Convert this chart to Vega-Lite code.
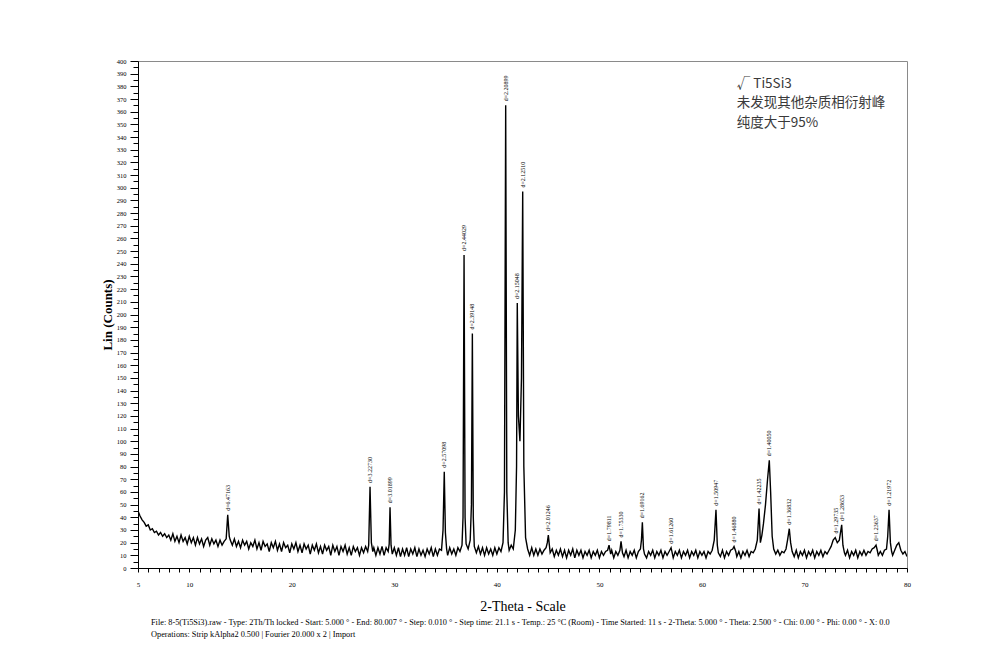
{
  "$schema": "https://vega.github.io/schema/vega-lite/v6.json",
  "width": 769,
  "height": 507,
  "autosize": {"type": "none"},
  "padding": {"left": 138, "top": 61, "right": 93, "bottom": 100},
  "background": "white",
  "config": {
    "view": {"stroke": "#8a8a8a", "strokeWidth": 1},
    "axis": {"grid": false, "domainColor": "black", "tickColor": "black", "labelColor": "black", "titleColor": "black", "labelFont": "Liberation Serif", "titleFont": "Liberation Serif"}
  },
  "title": {
    "text": ["File: 8-5(Ti5Si3).raw - Type: 2Th/Th locked - Start: 5.000 ° - End: 80.007 ° - Step: 0.010 ° - Step time: 21.1 s - Temp.: 25 °C (Room) - Time Started: 11 s - 2-Theta: 5.000 ° - Theta: 2.500 ° - Chi: 0.00 ° - Phi: 0.00 ° - X: 0.0", "Operations: Strip kAlpha2 0.500 | Fourier 20.000 x 2 | Import"],
    "orient": "bottom",
    "anchor": "start",
    "frame": "group",
    "font": "Liberation Serif",
    "fontSize": 8.3,
    "fontWeight": "normal",
    "color": "black",
    "lineHeight": 12,
    "offset": 5,
    "dx": 13
  },
  "datasets": {
    "scan": [
      {"t":5.0,"c":45},{"t":5.2,"c":41},{"t":5.4,"c":38},{"t":5.6,"c":36},{"t":5.8,"c":33},{"t":6.0,"c":34},{"t":6.2,"c":30},{"t":6.4,"c":31},{"t":6.6,"c":28},{"t":6.8,"c":29},{"t":7.0,"c":26},{"t":7.2,"c":28},{"t":7.4,"c":25},{"t":7.6,"c":27},{"t":7.8,"c":24},{"t":8.0,"c":26},
      {"t":8.2,"c":22},{"t":8.4,"c":27},{"t":8.6,"c":21},{"t":8.8,"c":25},{"t":9.0,"c":20},{"t":9.2,"c":26},{"t":9.4,"c":21},{"t":9.6,"c":24},{"t":9.8,"c":19},{"t":10.0,"c":25},{"t":10.2,"c":20},{"t":10.4,"c":24},{"t":10.6,"c":18},{"t":10.8,"c":24},{"t":11.0,"c":19},{"t":11.2,"c":23},{"t":11.4,"c":17},{"t":11.6,"c":22},{"t":11.8,"c":24},{"t":12.0,"c":18},{"t":12.2,"c":23},{"t":12.4,"c":19},{"t":12.6,"c":22},{"t":12.8,"c":17},{"t":13.0,"c":22},{"t":13.2,"c":18},{"t":13.4,"c":21},{"t":13.6,"c":23},{"t":13.75,"c":42},{"t":13.9,"c":25},
      {"t":14.0,"c":22},{"t":14.2,"c":18},{"t":14.4,"c":23},{"t":14.6,"c":17},{"t":14.8,"c":21},{"t":15.0,"c":16},{"t":15.2,"c":22},{"t":15.4,"c":18},{"t":15.6,"c":21},{"t":15.8,"c":15},{"t":16.0,"c":20},{"t":16.2,"c":17},{"t":16.4,"c":22},{"t":16.6,"c":15},{"t":16.8,"c":20},{"t":17.0,"c":14},{"t":17.2,"c":21},{"t":17.4,"c":17},{"t":17.6,"c":19},{"t":17.8,"c":13},{"t":18.0,"c":20},{"t":18.2,"c":16},{"t":18.4,"c":21},{"t":18.6,"c":14},{"t":18.8,"c":19},{"t":19.0,"c":13},{"t":19.2,"c":20},{"t":19.4,"c":16},{"t":19.6,"c":18},{"t":19.8,"c":12},{"t":20.0,"c":19},{"t":20.2,"c":15},{"t":20.4,"c":20},{"t":20.6,"c":13},{"t":20.8,"c":18},{"t":21.0,"c":12},{"t":21.2,"c":19},{"t":21.4,"c":15},{"t":21.6,"c":18},{"t":21.8,"c":11},{"t":22.0,"c":18},{"t":22.2,"c":14},{"t":22.4,"c":19},{"t":22.6,"c":12},{"t":22.8,"c":17},{"t":23.0,"c":11},{"t":23.2,"c":18},{"t":23.4,"c":14},{"t":23.6,"c":17},{"t":23.8,"c":10},{"t":24.0,"c":18},{"t":24.2,"c":13},{"t":24.4,"c":17},{"t":24.6,"c":10},{"t":24.8,"c":17},{"t":25.0,"c":13},{"t":25.2,"c":18},{"t":25.4,"c":11},{"t":25.6,"c":16},{"t":25.8,"c":10},{"t":26.0,"c":17},{"t":26.2,"c":13},{"t":26.4,"c":16},{"t":26.6,"c":10},{"t":26.8,"c":16},{"t":27.0,"c":12},{"t":27.2,"c":17},{"t":27.4,"c":13},{"t":27.5,"c":18},{"t":27.63,"c":64},{"t":27.76,"c":20},{"t":27.9,"c":13},
      {"t":28.0,"c":16},{"t":28.2,"c":10},{"t":28.4,"c":16},{"t":28.6,"c":11},{"t":28.8,"c":17},{"t":29.0,"c":10},{"t":29.2,"c":16},{"t":29.4,"c":13},{"t":29.5,"c":19},{"t":29.58,"c":48},{"t":29.68,"c":18},{"t":29.8,"c":11},{"t":30.0,"c":16},{"t":30.2,"c":10},{"t":30.4,"c":16},{"t":30.6,"c":9},{"t":30.8,"c":15},{"t":31.0,"c":10},{"t":31.2,"c":16},{"t":31.4,"c":9},{"t":31.6,"c":15},{"t":31.8,"c":11},{"t":32.0,"c":16},{"t":32.2,"c":9},{"t":32.4,"c":15},{"t":32.6,"c":10},{"t":32.8,"c":14},{"t":33.0,"c":9},{"t":33.2,"c":15},{"t":33.4,"c":11},{"t":33.6,"c":16},{"t":33.8,"c":9},{"t":34.0,"c":15},{"t":34.2,"c":10},{"t":34.4,"c":15},{"t":34.6,"c":14},{"t":34.75,"c":30},{"t":34.87,"c":76},{"t":34.98,"c":28},{"t":35.1,"c":15},{"t":35.2,"c":10},{"t":35.4,"c":16},{"t":35.6,"c":11},{"t":35.8,"c":15},{"t":36.0,"c":10},{"t":36.2,"c":16},{"t":36.4,"c":13},{"t":36.6,"c":18},{"t":36.7,"c":40},{"t":36.8,"c":247},{"t":36.9,"c":40},{"t":37.0,"c":19},{"t":37.2,"c":15},{"t":37.4,"c":22},{"t":37.52,"c":50},{"t":37.61,"c":185},{"t":37.7,"c":40},{"t":37.8,"c":17},{"t":38.0,"c":12},{"t":38.2,"c":17},{"t":38.4,"c":11},{"t":38.6,"c":16},{"t":38.8,"c":10},{"t":39.0,"c":16},{"t":39.2,"c":11},{"t":39.4,"c":15},{"t":39.6,"c":10},{"t":39.8,"c":16},{"t":40.0,"c":11},{"t":40.2,"c":16},{"t":40.4,"c":13},{"t":40.6,"c":20},{"t":40.74,"c":60},{"t":40.86,"c":365},{"t":40.97,"c":60},{"t":41.1,"c":20},{"t":41.2,"c":14},{"t":41.4,"c":18},{"t":41.6,"c":15},{"t":41.8,"c":30},{"t":41.92,"c":80},{"t":41.99,"c":209},{"t":42.1,"c":120},{"t":42.25,"c":100},{"t":42.4,"c":150},{"t":42.52,"c":297},{"t":42.63,"c":80},{"t":42.8,"c":24},{"t":43.0,"c":15},{"t":43.2,"c":10},{"t":43.4,"c":16},{"t":43.6,"c":10},{"t":43.8,"c":15},{"t":44.0,"c":10},{"t":44.2,"c":15},{"t":44.4,"c":11},{"t":44.6,"c":14},{"t":44.8,"c":16},{"t":44.92,"c":20},{"t":45.02,"c":26},{"t":45.12,"c":18},{"t":45.2,"c":12},{"t":45.4,"c":15},{"t":45.6,"c":9},{"t":45.8,"c":14},{"t":46.0,"c":10},{"t":46.2,"c":15},{"t":46.4,"c":9},{"t":46.6,"c":14},{"t":46.8,"c":8},{"t":47.0,"c":14},{"t":47.2,"c":10},{"t":47.4,"c":15},{"t":47.6,"c":8},{"t":47.8,"c":14},{"t":48.0,"c":10},{"t":48.2,"c":14},{"t":48.4,"c":8},{"t":48.6,"c":13},{"t":48.8,"c":10},{"t":49.0,"c":14},{"t":49.2,"c":8},{"t":49.4,"c":13},{"t":49.6,"c":10},{"t":49.8,"c":14},{"t":50.0,"c":8},{"t":50.2,"c":13},{"t":50.4,"c":10},{"t":50.6,"c":13},{"t":50.8,"c":14},{"t":50.94,"c":18},{"t":51.1,"c":11},{"t":51.2,"c":14},{"t":51.4,"c":8},{"t":51.6,"c":13},{"t":51.8,"c":10},{"t":52.0,"c":14},{"t":52.11,"c":21},{"t":52.25,"c":12},{"t":52.4,"c":9},{"t":52.6,"c":14},{"t":52.8,"c":8},{"t":53.0,"c":13},{"t":53.2,"c":10},{"t":53.4,"c":14},{"t":53.6,"c":8},{"t":53.8,"c":13},{"t":54.0,"c":15},{"t":54.1,"c":22},{"t":54.19,"c":36},{"t":54.3,"c":15},{"t":54.4,"c":11},{"t":54.6,"c":8},{"t":54.8,"c":13},{"t":55.0,"c":10},{"t":55.2,"c":14},{"t":55.4,"c":8},{"t":55.6,"c":13},{"t":55.8,"c":10},{"t":56.0,"c":14},{"t":56.2,"c":8},{"t":56.4,"c":13},{"t":56.6,"c":10},{"t":56.8,"c":13},{"t":56.99,"c":16},{"t":57.1,"c":12},{"t":57.2,"c":8},{"t":57.4,"c":13},{"t":57.6,"c":10},{"t":57.8,"c":14},{"t":58.0,"c":8},{"t":58.2,"c":13},{"t":58.4,"c":10},{"t":58.6,"c":14},{"t":58.8,"c":8},{"t":59.0,"c":13},{"t":59.2,"c":10},{"t":59.4,"c":14},{"t":59.6,"c":8},{"t":59.8,"c":13},{"t":60.0,"c":10},{"t":60.2,"c":13},{"t":60.4,"c":8},{"t":60.6,"c":13},{"t":60.8,"c":11},{"t":61.0,"c":14},{"t":61.2,"c":22},{"t":61.37,"c":46},{"t":61.5,"c":18},{"t":61.6,"c":12},{"t":61.8,"c":9},{"t":62.0,"c":14},{"t":62.2,"c":8},{"t":62.4,"c":13},{"t":62.6,"c":10},{"t":62.8,"c":14},{"t":63.0,"c":15},{"t":63.13,"c":17},{"t":63.3,"c":13},{"t":63.4,"c":9},{"t":63.6,"c":13},{"t":63.8,"c":8},{"t":64.0,"c":13},{"t":64.2,"c":10},{"t":64.4,"c":14},{"t":64.6,"c":9},{"t":64.8,"c":13},{"t":65.0,"c":12},{"t":65.2,"c":15},{"t":65.4,"c":22},{"t":65.57,"c":47},{"t":65.7,"c":20},{"t":65.85,"c":26},{"t":66.0,"c":35},{"t":66.2,"c":50},{"t":66.4,"c":70},{"t":66.57,"c":85},{"t":66.7,"c":60},{"t":66.85,"c":25},{"t":67.0,"c":15},{"t":67.2,"c":11},{"t":67.4,"c":14},{"t":67.6,"c":10},{"t":67.8,"c":13},{"t":68.0,"c":12},{"t":68.2,"c":15},{"t":68.35,"c":22},{"t":68.52,"c":31},{"t":68.65,"c":20},{"t":68.8,"c":13},{"t":69.0,"c":9},{"t":69.2,"c":14},{"t":69.4,"c":8},{"t":69.6,"c":13},{"t":69.8,"c":10},{"t":70.0,"c":14},{"t":70.2,"c":8},{"t":70.4,"c":13},{"t":70.6,"c":10},{"t":70.8,"c":14},{"t":71.0,"c":8},{"t":71.2,"c":13},{"t":71.4,"c":10},{"t":71.6,"c":14},{"t":71.8,"c":9},{"t":72.0,"c":13},{"t":72.2,"c":11},{"t":72.4,"c":14},{"t":72.6,"c":17},{"t":72.8,"c":22},{"t":73.0,"c":24},{"t":73.2,"c":20},{"t":73.4,"c":22},{"t":73.63,"c":34},{"t":73.75,"c":18},{"t":73.9,"c":12},{"t":74.0,"c":10},{"t":74.2,"c":14},{"t":74.4,"c":8},{"t":74.6,"c":13},{"t":74.8,"c":10},{"t":75.0,"c":14},{"t":75.2,"c":8},{"t":75.4,"c":13},{"t":75.6,"c":10},{"t":75.8,"c":14},{"t":76.0,"c":10},{"t":76.2,"c":13},{"t":76.4,"c":12},{"t":76.6,"c":15},{"t":76.8,"c":16},{"t":76.98,"c":18},{"t":77.1,"c":14},{"t":77.2,"c":10},{"t":77.4,"c":13},{"t":77.6,"c":10},{"t":77.8,"c":14},{"t":78.0,"c":15},{"t":78.12,"c":25},{"t":78.25,"c":46},{"t":78.38,"c":20},{"t":78.5,"c":13},{"t":78.6,"c":10},{"t":78.8,"c":14},{"t":79.0,"c":18},{"t":79.2,"c":20},{"t":79.4,"c":14},{"t":79.6,"c":11},{"t":79.8,"c":13},{"t":80.0,"c":9}
    ],
    "peaks": [
      {"t":13.75,"c":42,"d":"d=6.47163"},
      {"t":27.63,"c":64,"d":"d=3.22730"},
      {"t":29.58,"c":48,"d":"d=3.01899"},
      {"t":34.87,"c":76,"d":"d=2.57098"},
      {"t":36.8,"c":247,"d":"d=2.44029"},
      {"t":37.61,"c":185,"d":"d=2.39148"},
      {"t":40.86,"c":365,"d":"d=2.20899"},
      {"t":41.99,"c":209,"d":"d=2.15048"},
      {"t":42.52,"c":297,"d":"d=2.12510"},
      {"t":45.02,"c":26,"d":"d=2.01246"},
      {"t":50.94,"c":18,"d":"d=1.79811"},
      {"t":52.11,"c":21,"d":"d=1.75330"},
      {"t":54.19,"c":36,"d":"d=1.69162"},
      {"t":56.99,"c":16,"d":"d=1.61260"},
      {"t":61.37,"c":46,"d":"d=1.50947"},
      {"t":63.13,"c":17,"d":"d=1.46880"},
      {"t":65.57,"c":47,"d":"d=1.42235"},
      {"t":66.57,"c":85,"d":"d=1.40050"},
      {"t":68.52,"c":31,"d":"d=1.36832"},
      {"t":73.05,"c":24,"d":"d=1.29735"},
      {"t":73.63,"c":34,"d":"d=1.28653"},
      {"t":76.98,"c":18,"d":"d=1.23637"},
      {"t":78.25,"c":46,"d":"d=1.21972"}
    ],
    "notes": [
      {"t":63.4,"c":382,"txt":"√ Ti5Si3"},
      {"t":63.4,"c":367,"txt":"未发现其他杂质相衍射峰"},
      {"t":63.4,"c":351,"txt":"纯度大于95%"}
    ]
  },
  "layer": [
    {
      "data": {"name": "scan"},
      "mark": {"type": "line", "color": "black", "strokeWidth": 1.4, "clip": true},
      "encoding": {
        "x": {
          "field": "t", "type": "quantitative",
          "scale": {"domain": [5, 80], "nice": false, "zero": false},
          "axis": {
            "title": "2-Theta - Scale",
            "titleFontSize": 14, "titleFontWeight": "normal", "titlePadding": 12,
            "tickCount": 200,
            "format": "d",
            "values": [5,6,7,8,9,10,11,12,13,14,15,16,17,18,19,20,21,22,23,24,25,26,27,28,29,30,31,32,33,34,35,36,37,38,39,40,41,42,43,44,45,46,47,48,49,50,51,52,53,54,55,56,57,58,59,60,61,62,63,64,65,66,67,68,69,70,71,72,73,74,75,76,77,78,79,80],
            "labelExpr": "datum.value == 5 || datum.value % 10 == 0 ? datum.label : ''",
            "labelFontSize": 7, "labelPadding": 8, "tickSize": 4, "labelFlush": false, "labelOverlap": false
          }
        },
        "y": {
          "field": "c", "type": "quantitative",
          "scale": {"domain": [0, 400], "nice": false},
          "axis": {
            "title": "Lin (Counts)",
            "titleFontSize": 13, "titleFontWeight": "bold", "titlePadding": 2,
            "tickCount": 200,
            "format": "d",
            "values": [0,5,10,15,20,25,30,35,40,45,50,55,60,65,70,75,80,85,90,95,100,105,110,115,120,125,130,135,140,145,150,155,160,165,170,175,180,185,190,195,200,205,210,215,220,225,230,235,240,245,250,255,260,265,270,275,280,285,290,295,300,305,310,315,320,325,330,335,340,345,350,355,360,365,370,375,380,385,390,395,400],
            "labelExpr": "datum.value % 10 == 0 ? datum.label : ''",
            "labelFontSize": 6.5, "labelPadding": 4, "labelOverlap": false, "labelFlush": false,
            "tickSize": {"condition": {"test": "datum.value % 10 == 0", "value": 8}, "value": 5}
          }
        }
      }
    },
    {
      "data": {"name": "peaks"},
      "mark": {"type": "text", "angle": 270, "align": "left", "baseline": "middle", "dx": 4, "font": "Liberation Serif", "fontSize": 6, "color": "black"},
      "encoding": {
        "x": {"field": "t", "type": "quantitative"},
        "y": {"field": "c", "type": "quantitative"},
        "text": {"field": "d"}
      }
    },
    {
      "data": {"name": "notes"},
      "mark": {"type": "text", "align": "left", "baseline": "middle", "font": "Noto Sans CJK SC", "fontSize": 13.5, "color": "#3a3a3a"},
      "encoding": {
        "x": {"field": "t", "type": "quantitative"},
        "y": {"field": "c", "type": "quantitative"},
        "text": {"field": "txt"}
      }
    }
  ]
}
